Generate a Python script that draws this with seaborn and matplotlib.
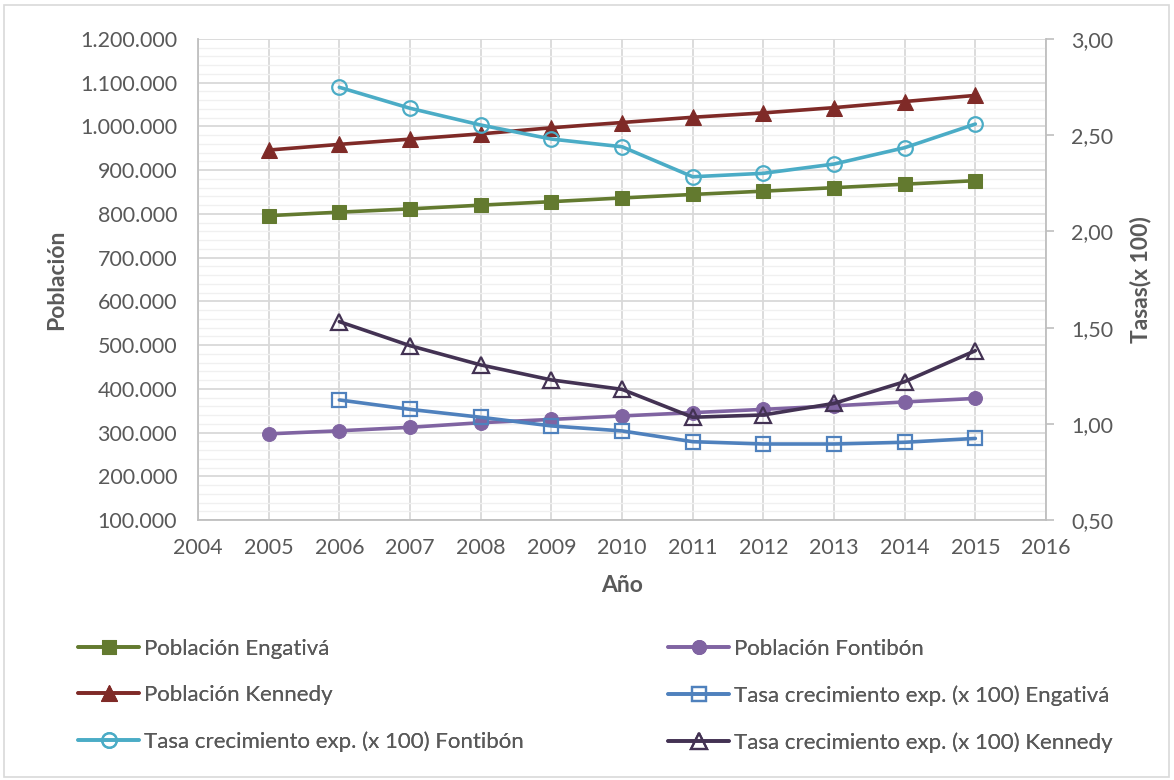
import matplotlib
matplotlib.use("Agg")
import matplotlib.pyplot as plt
import matplotlib.ticker as mticker
from matplotlib.patches import Rectangle
import seaborn as sns

sns.set_theme(style="white")
plt.rcParams['font.family'] = ['Lato', 'DejaVu Sans']

years_pop = [2005, 2006, 2007, 2008, 2009, 2010, 2011, 2012, 2013, 2014, 2015]
years_rate = [2006, 2007, 2008, 2009, 2010, 2011, 2012, 2013, 2014, 2015]

pob_engativa = [796000, 804000, 811500, 820000, 828000, 836500, 844500, 852000, 860000, 868000, 876000]
pob_fontibon = [297000, 304000, 312000, 322500, 330000, 338000, 345500, 353000, 361000, 370000, 378000]
pob_kennedy = [946000, 959000, 971000, 983000, 997000, 1009000, 1021000, 1031000, 1043000, 1057000, 1071000]

tasa_engativa = [1.124, 1.075, 1.034, 0.989, 0.963, 0.907, 0.895, 0.895, 0.904, 0.924]
tasa_fontibon = [2.749, 2.640, 2.553, 2.480, 2.440, 2.284, 2.302, 2.350, 2.435, 2.558]
tasa_kennedy = [1.531, 1.406, 1.306, 1.228, 1.179, 1.034, 1.046, 1.106, 1.219, 1.380]

labels = ["Población Engativá", "Población Fontibón", "Población Kennedy",
          "Tasa crecimiento exp. (x 100) Engativá",
          "Tasa crecimiento exp. (x 100) Fontibón",
          "Tasa crecimiento exp. (x 100) Kennedy"]

c_eng = "#637A2F"
c_fon = "#8064A2"
c_ken = "#7F2A27"
c_teng = "#4F81BD"
c_tfon = "#4BACC6"
c_tken = "#433253"

text_c = "#595959"
grid_c = "#D9D9D9"
minor_c = "#F0F0F0"
FS = 15.5
FS_T = 16.5
FS_L = 16

fig = plt.figure(figsize=(11.74, 7.8), dpi=100)
ax = fig.add_axes([198/1174, 1-520/780, (1046-198)/1174, (520-39)/780])
ax2 = ax.twinx()

lw = 2.6
ms = 10
sns.lineplot(x=years_pop, y=pob_engativa, ax=ax, color=c_eng, lw=lw, marker="s", markersize=ms,
             markeredgecolor=c_eng, markerfacecolor=c_eng, label=labels[0], legend=False)
sns.lineplot(x=years_pop, y=pob_fontibon, ax=ax, color=c_fon, lw=lw, marker="o", markersize=ms,
             markeredgecolor=c_fon, markerfacecolor=c_fon, label=labels[1], legend=False)
sns.lineplot(x=years_pop, y=pob_kennedy, ax=ax, color=c_ken, lw=lw, marker="^", markersize=ms+1,
             markeredgecolor=c_ken, markerfacecolor=c_ken, label=labels[2], legend=False)

sns.lineplot(x=years_rate, y=tasa_engativa, ax=ax2, color=c_teng, lw=lw, marker="s", markersize=ms,
             markeredgecolor=c_teng, markerfacecolor="none", markeredgewidth=1.6, label=labels[3], legend=False)
sns.lineplot(x=years_rate, y=tasa_fontibon, ax=ax2, color=c_tfon, lw=lw, marker="o", markersize=ms+0.5,
             markeredgecolor=c_tfon, markerfacecolor="none", markeredgewidth=1.6, label=labels[4], legend=False)
sns.lineplot(x=years_rate, y=tasa_kennedy, ax=ax2, color=c_tken, lw=lw, marker="^", markersize=ms+1,
             markeredgecolor=c_tken, markerfacecolor="none", markeredgewidth=1.6, label=labels[5], legend=False)

ax.set_xlim(2004, 2016)
ax.set_ylim(100000, 1200000)
ax2.set_ylim(0.5, 3.0)

ax.xaxis.set_major_locator(mticker.MultipleLocator(1))
ax.yaxis.set_major_locator(mticker.MultipleLocator(100000))
ax.yaxis.set_minor_locator(mticker.MultipleLocator(20000))
ax.yaxis.set_major_formatter(mticker.FuncFormatter(lambda v, p: f"{int(round(v)):,}".replace(",", ".")))
ax2.yaxis.set_major_locator(mticker.MultipleLocator(0.5))
ax2.yaxis.set_major_formatter(mticker.FuncFormatter(lambda v, p: f"{v:.2f}".replace(".", ",")))

ax.grid(True, which="major", axis="both", color=grid_c, lw=1.3)
ax.grid(True, which="minor", axis="y", color=minor_c, lw=1.0)
ax.set_axisbelow(True)
ax2.grid(False)

for a in (ax, ax2):
    for s in a.spines.values():
        s.set_visible(False)
ax.spines["left"].set_visible(True)
ax.spines["left"].set_color("#BFBFBF")
ax.spines["bottom"].set_visible(True)
ax.spines["bottom"].set_color("#BFBFBF")
ax2.spines["right"].set_visible(True)
ax2.spines["right"].set_color("#BFBFBF")
for s in ("left", "bottom"):
    ax.spines[s].set_linewidth(1.3)
ax2.spines["right"].set_linewidth(1.3)

ax.tick_params(axis="both", which="both", length=0, labelsize=FS, labelcolor=text_c)
ax.tick_params(axis="x", pad=13)
ax.tick_params(axis="y", pad=15)
ax2.tick_params(axis="y", which="major", length=6, width=1.2, color="#BFBFBF", direction="out",
                labelsize=FS, labelcolor=text_c, pad=12)
ax2.tick_params(axis="y", which="minor", length=0)

ax.set_xlabel("Año", fontsize=FS_T, fontweight="bold", color=text_c, labelpad=12)
ax.set_ylabel("Población", fontsize=FS_T, fontweight="bold", color=text_c, labelpad=9)
ax2.set_ylabel("Tasas(x 100)", fontsize=FS_T, fontweight="bold", color=text_c, labelpad=12)

h1, l1 = ax.get_legend_handles_labels()
h2, l2 = ax2.get_legend_handles_labels()
hd = dict(zip(l1 + l2, h1 + h2))
col1 = [labels[0], labels[2], labels[4]]
col2 = [labels[1], labels[3], labels[5]]
for col, xa in ((col1, 78/1174), (col2, 668/1174)):
    leg = fig.legend([hd[k] for k in col], col, loc="upper left", bbox_to_anchor=(xa, 1-639/780),
                     frameon=False, fontsize=FS_L, labelcolor=text_c, handlelength=2.75,
                     handletextpad=0.2, labelspacing=1.18, borderpad=0, borderaxespad=0)
    fig.add_artist(leg)

fig.add_artist(Rectangle((0.003, 0.004), 0.993, 0.99, transform=fig.transFigure, fill=False,
                         edgecolor="#D9D9D9", lw=1.2))

fig.savefig("out.png", dpi=100)
